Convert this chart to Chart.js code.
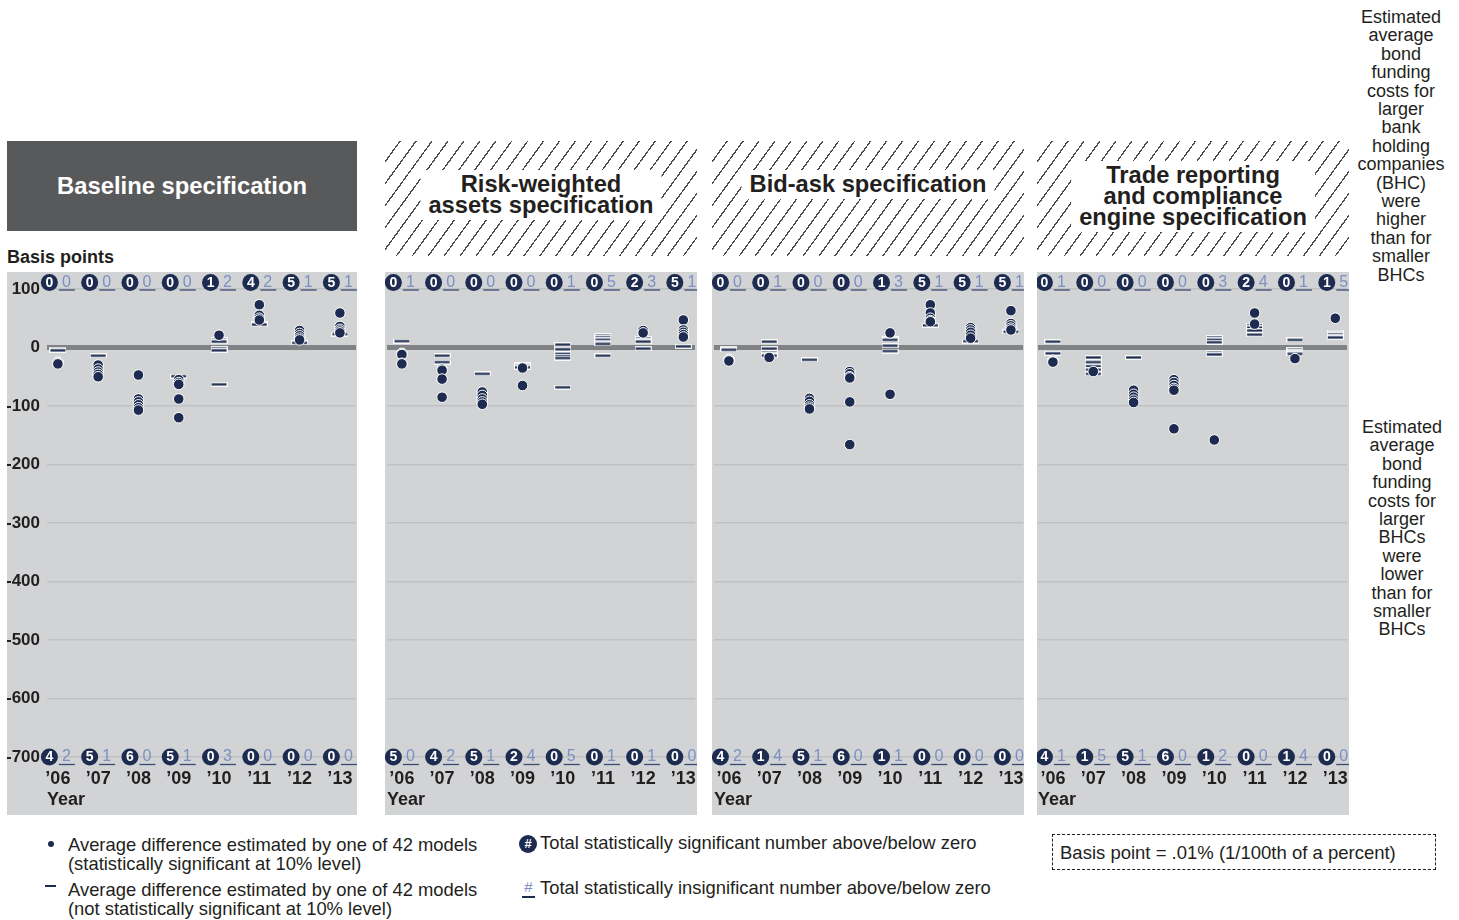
<!DOCTYPE html>
<html><head><meta charset="utf-8">
<script src="https://cdn.jsdelivr.net/npm/chart.js@4.4.0/dist/chart.umd.min.js"></script>
<style>
body{margin:0;width:1459px;height:920px;background:#fff;font-family:"Liberation Sans",Arial,sans-serif;position:relative;overflow:hidden;color:#231f20}
.abs{position:absolute}
.hdr1{left:7px;top:141px;width:350px;height:90px;background:#58595b;color:#fff;display:flex;align-items:center;justify-content:center;font-weight:bold;font-size:23.8px}
.hatch{top:141px;height:115px;background:repeating-linear-gradient(126deg,#fff 0 11.6px,#4a4a4a 11.6px 12.9px)}
.hatch span{position:absolute;left:50%;transform:translateX(-50%);white-space:nowrap;background:#fff;font-weight:bold;font-size:23.7px;line-height:21px;text-align:center;padding:4px 8px;color:#231f20}
canvas{position:absolute;background:#d1d3d4}
.side{font-size:18px;line-height:18.4px;text-align:center;width:120px}
.leg{font-size:18.4px;line-height:18.5px;white-space:nowrap}
</style></head>
<body>
<div class="abs hdr1">Baseline specification</div>
<div class="abs hatch" style="left:385px;width:312px"><span style="top:29px">Risk-weighted<br>assets specification</span></div>
<div class="abs hatch" style="left:712px;width:312px"><span style="top:29px">Bid-ask specification</span></div>
<div class="abs hatch" style="left:1037px;width:312px"><span style="top:20px">Trade reporting<br>and compliance<br>engine specification</span></div>
<div class="abs" style="left:7px;top:247px;font-size:18px;line-height:21px;font-weight:bold">Basis points</div>
<div class="abs side" style="left:1341px;top:8px">Estimated<br>average<br>bond<br>funding<br>costs for<br>larger<br>bank<br>holding<br>companies<br>(BHC)<br>were<br>higher<br>than for<br>smaller<br>BHCs</div>
<div class="abs side" style="left:1342px;top:418px">Estimated<br>average<br>bond<br>funding<br>costs for<br>larger<br>BHCs<br>were<br>lower<br>than for<br>smaller<br>BHCs</div>

<canvas id="c1" width="350" height="543" style="left:7px;top:272px"></canvas>
<canvas id="c2" width="312" height="543" style="left:385px;top:272px"></canvas>
<canvas id="c3" width="312" height="543" style="left:712px;top:272px"></canvas>
<canvas id="c4" width="312" height="543" style="left:1037px;top:272px"></canvas>

<div class="abs" style="left:48px;top:841px;width:6px;height:6px;border-radius:3px;background:#1c2b4f"></div>
<div class="abs leg" style="left:68px;top:836px">Average difference estimated by one of 42 models<br>(statistically significant at 10% level)</div>
<div class="abs" style="left:45px;top:885px;width:11px;height:2px;background:#1c2b4f"></div>
<div class="abs leg" style="left:68px;top:881px">Average difference estimated by one of 42 models<br>(not statistically significant at 10% level)</div>
<div class="abs" style="left:519px;top:835px;width:18px;height:18px;border-radius:9px;background:#1c2b4f;color:#fff;font-weight:bold;font-size:13px;line-height:18px;text-align:center">#</div>
<div class="abs leg" style="left:540px;top:834px">Total statistically significant number above/below zero</div>
<div class="abs" style="left:522px;top:878px;width:13px;font-size:15px;line-height:18px;text-align:center;color:#7d90c4">#</div>
<div class="abs" style="left:522px;top:896px;width:13px;height:1.5px;background:#1c2b4f"></div>
<div class="abs leg" style="left:540px;top:879px">Total statistically insignificant number above/below zero</div>
<div class="abs leg" style="left:1052px;top:834px;border:1px dashed #231f20;font-size:18.5px;line-height:36px;padding-left:7px;box-sizing:border-box;width:384px;height:36px">Basis point = .01% (1/100th of a percent)</div>

<script>
const years = ['\u201906','\u201907','\u201908','\u201909','\u201910','\u201911','\u201912','\u201913'];
const yTicks = [100,0,-100,-200,-300,-400,-500,-600,-700];

// Baseline specification
const baselineSig = [[-25,-26,-27,-28],[-30,-37,-42,-46,-50],[-47,-88,-93,-98,-103,-107],[-55,-60,-63,-88,-120],[21],[73,55,50,47],[29,24,20,16,13],[59,36,31,28,25]];
const baselineInsig = [[-3,-5],[-14],[],[-49],[13,10,-2,-5,-63],[41,39],[8],[23]];
const baselineSigAbove = [0,0,0,0,1,4,5,5];
const baselineInsigAbove = [0,0,0,0,2,2,1,1];
const baselineSigBelow = [4,5,6,5,0,0,0,0];
const baselineInsigBelow = [2,1,0,1,3,0,0,0];

// Risk-weighted assets specification
const rwaSig = [[-10,-11,-12,-27,-28],[-37,-39,-54,-85],[-76,-82,-88,-93,-97],[-35,-65],[],[],[29,25],[47,30,26,22,18]];
const rwaInsig = [[11],[-14,-25],[-45],[-29,-31,-32,-34],[5,-3,-11,-15,-18,-68],[20,17,13,9,6,-14],[15,12,10,-2],[2]];
const rwaSigAbove = [0,0,0,0,0,0,2,5];
const rwaInsigAbove = [1,0,0,0,1,5,3,1];
const rwaSigBelow = [5,4,5,2,0,0,0,0];
const rwaInsigBelow = [0,2,1,4,5,1,1,0];

// Bid-ask specification
const bidAskSig = [[-20,-21,-22,-23],[-17],[-87,-92,-98,-102,-105],[-41,-45,-50,-52,-93,-166],[25,-80],[73,59,50,46,44],[34,30,26,21,16],[63,41,37,33,30]];
const bidAskInsig = [[-2,-4],[10,-2,-9,-12,-14],[-21],[],[15,13,3,-6],[38],[11],[27]];
const bidAskSigAbove = [0,0,0,0,1,5,5,5];
const bidAskInsigAbove = [0,1,0,0,3,1,1,1];
const bidAskSigBelow = [4,1,5,6,1,0,0,0];
const bidAskInsigBelow = [2,4,1,0,1,0,0,0];

// Trade reporting and compliance engine specification
const traceSig = [[-22,-23,-24,-25],[-41],[-73,-80,-85,-90,-94],[-55,-60,-65,-70,-73,-139],[-158],[59,40],[-19],[50]];
const traceInsig = [[10,-10],[-17,-25,-32,-38,-45],[-17],[],[17,13,9,-9,-12],[38,34,29,22],[13,-4,-7,-9,-11],[26,24,22,19,17]];
const traceSigAbove = [0,0,0,0,0,2,0,1];
const traceInsigAbove = [1,0,0,0,3,4,1,5];
const traceSigBelow = [4,1,5,6,1,0,1,0];
const traceInsigBelow = [1,5,1,0,2,0,4,0];

const NAVY = '#1c2b4f', LIGHT = '#7d90c4', TXT = '#231f20', FAM = '"Liberation Sans", Arial, sans-serif';

// dash marker with white halo
const dash = document.createElement('canvas');
dash.width = 17; dash.height = 5;
(function(){const g = dash.getContext('2d'); g.fillStyle='rgba(255,255,255,0.85)'; g.fillRect(0,0,17,5); g.fillStyle=NAVY; g.fillRect(1,1.4,15,2.2);})();

function toPts(arr){ const out=[]; arr.forEach((vals,i)=>vals.forEach(v=>out.push({x:i,y:v}))); return out; }

function countsPlugin(sa, ia, sb, ib){
  return {
    id:'counts',
    afterDatasetsDraw(chart){
      const {ctx, scales:{x,y}} = chart;
      const rows = [{s:sa,n:ia,yy:y.getPixelForValue(100)-6.5},{s:sb,n:ib,yy:y.getPixelForValue(-700)}];
      ctx.save();
      ctx.textAlign='center'; ctx.textBaseline='middle';
      rows.forEach(r=>{
        r.s.forEach((n,i)=>{
          const cx = x.getPixelForValue(i);
          ctx.beginPath(); ctx.arc(cx-8.5, r.yy, 8.5, 0, Math.PI*2); ctx.fillStyle=NAVY; ctx.fill();
          ctx.fillStyle='#fff'; ctx.font='bold 14px '+FAM; ctx.fillText(String(n), cx-8.5, r.yy+0.5);
          ctx.fillStyle=LIGHT; ctx.font='16px '+FAM; ctx.fillText(String(r.n[i]), cx+8.5, r.yy);
          ctx.strokeStyle='#3a4a72'; ctx.lineWidth=1.3;
          ctx.beginPath(); ctx.moveTo(cx+1, r.yy+7.5); ctx.lineTo(cx+17, r.yy+7.5); ctx.stroke();
        });
      });
      ctx.restore();
    }
  };
}

function makePanel(id, sig, insig, sa, ia, sb, ib, cfg){
  new Chart(document.getElementById(id), {
    type:'scatter',
    data:{datasets:[
      {data:toPts(sig), pointStyle:'circle', pointRadius:5.3, backgroundColor:NAVY, borderColor:'#fff', borderWidth:1, order:0, clip:false},
      {data:toPts(insig), pointStyle:dash, pointRadius:8, order:1, clip:false}
    ]},
    options:{
      responsive:false, animation:false, events:[],
      layout:{autoPadding:false, padding:{top:17, right:cfg.padR, bottom:0, left:0}},
      plugins:{legend:{display:false}, tooltip:{enabled:false}},
      scales:{
        x:{type:'linear', min:cfg.xMin, max:cfg.xMax,
          afterBuildTicks:s=>{s.ticks = years.map((_,i)=>({value:i}));},
          ticks:{callback:v=>years[v], padding:11, maxRotation:0, autoSkip:false, color:TXT, font:{family:FAM,size:18,weight:'bold'}},
          grid:{display:false, drawTicks:false}, border:{display:false},
          title:{display:true, text:'Year', align:'start', color:TXT, font:{family:FAM,size:18,weight:'bold'}, padding:{top:0,bottom:4}},
          afterFit:s=>{s.height=58; s.paddingLeft=0; s.paddingRight=0;}
        },
        y:{min:-700, max:100,
          afterBuildTicks:s=>{s.ticks = yTicks.map(v=>({value:v}));},
          ticks:{display:cfg.showY, padding:7, color:TXT, font:{family:FAM,size:17,weight:'bold'}},
          grid:{drawTicks:false, color:c=>c.tick && c.tick.value===0 ? '#808285' : '#c0c1c3', lineWidth:c=>c.tick && c.tick.value===0 ? 5 : 1.5},
          border:{display:false},
          afterFit:s=>{s.width=cfg.yW; s.paddingTop=0; s.paddingBottom=0;}
        }
      }
    },
    plugins:[countsPlugin(sa, ia, sb, ib)]
  });
}

makePanel('c1', baselineSig, baselineInsig, baselineSigAbove, baselineInsigAbove, baselineSigBelow, baselineInsigBelow, {yW:40, padR:1, xMin:-0.27, xMax:7.4, showY:true});
makePanel('c2', rwaSig, rwaInsig, rwaSigAbove, rwaInsigAbove, rwaSigBelow, rwaInsigBelow, {yW:2, padR:2, xMin:-0.37, xMax:7.29, showY:false});
makePanel('c3', bidAskSig, bidAskInsig, bidAskSigAbove, bidAskInsigAbove, bidAskSigBelow, bidAskInsigBelow, {yW:2, padR:1, xMin:-0.37, xMax:7.3, showY:false});
makePanel('c4', traceSig, traceInsig, traceSigAbove, traceInsigAbove, traceSigBelow, traceInsigBelow, {yW:1, padR:2, xMin:-0.37, xMax:7.29, showY:false});
</script>
</body></html>
